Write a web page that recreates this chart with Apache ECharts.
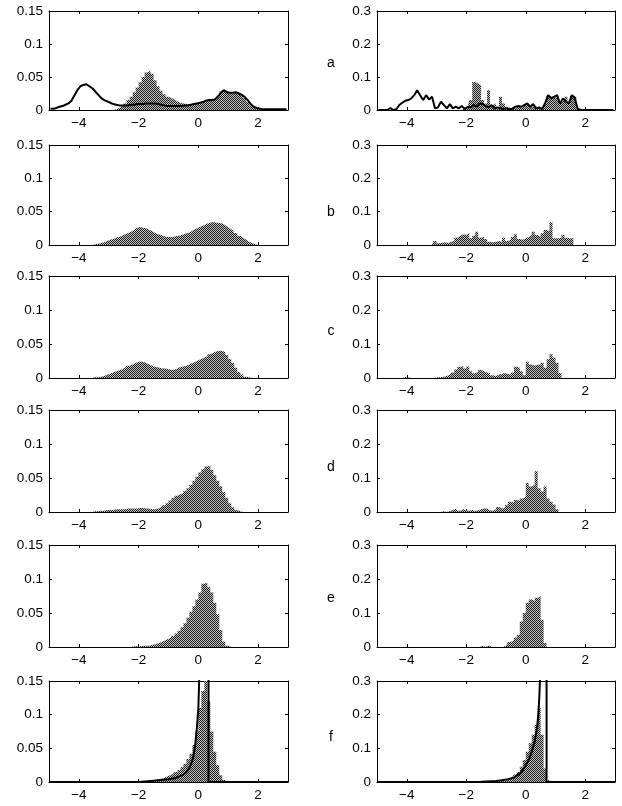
<!DOCTYPE html>
<html><head><meta charset="utf-8">
<script src="https://cdn.jsdelivr.net/npm/echarts@6/dist/echarts.min.js"></script>
<style>html,body{margin:0;padding:0;background:#fff}#c{width:622px;height:806px}</style>
</head><body><div id="c"></div>
<script>
// histogram bins: width 0.1 from -5 to 3 (80 bins)
const BIN_LO = -5, BIN_HI = 3, BIN_COUNT = 80;
const XTICKS = [-4, -2, 0, 2];
const XTICK_LABELS = ['\u22124', '\u22122', '0', '2'];
const YTICKS_L = [0, 0.05, 0.1, 0.15];
const YLABELS_L = ['0', '0.05', '0.1', '0.15'];
const YTICKS_R = [0, 0.1, 0.2, 0.3];
const YLABELS_R = ['0', '0.1', '0.2', '0.3'];
const PANEL_LETTERS = ['a', 'b', 'c', 'd', 'e', 'f'];

const aL_hist = [0,0,0,0,0,0,0,0, 0,0,0,0,0,0,0,0, 0,0,0,0,0,0,0.001,0.003,
 0.006,0.01,0.015,0.02,0.027,0.034,0.042,0.05, 0.057,0.06,0.055,0.045,0.036,0.029,0.024,0.02,
 0.018,0.016,0.013,0.011,0.01,0.009,0.009,0.009, 0.01,0.011,0.012,0.013,0.015,0.015,0.016,0.018,
 0.022,0.028,0.03,0.028,0.026,0.027,0.027,0.026, 0.023,0.018,0.012,0.007,0.004,0.002,0.001,0, 0,0,0,0,0,0,0,0];
const aL_line = [0.002,0.002,0.003,0.005,0.006,0.008,0.01,0.014, 0.022,0.03,0.036,0.038,0.039,0.036,0.033,0.028,
 0.023,0.018,0.015,0.013,0.011,0.009,0.008,0.007, 0.007,0.007,0.007,0.008,0.008,0.009,0.009,0.009,
 0.01,0.01,0.01,0.01,0.009,0.008,0.007,0.006, 0.006,0.006,0.006,0.006,0.006,0.007,0.007,0.008,
 0.009,0.01,0.011,0.012,0.014,0.015,0.015,0.016, 0.02,0.026,0.03,0.027,0.026,0.026,0.027,0.025,
 0.023,0.02,0.015,0.009,0.005,0.003,0.002,0.001, 0.001,0.001,0.001,0.001,0.001,0.001,0.001,0.001];
const aR_hist = [0,0,0,0,0,0,0,0, 0,0,0,0,0,0,0,0, 0,0,0,0,0,0,0,0,
 0,0,0,0,0,0.005,0.01,0.03, 0.085,0.08,0.075,0.03,0.02,0.06,0.015,0.02,
 0.01,0.04,0.02,0.01,0.005,0.01,0.005,0.012, 0.01,0.015,0.02,0.01,0.012,0.008,0.005,0.01,
 0.02,0.045,0.04,0.035,0.045,0.025,0.03,0.04, 0.025,0.045,0.04,0.005,0,0,0,0, 0,0,0,0,0,0,0,0];
const aR_line = [0,0,0,0,0.006,0,0.002,0.015, 0.022,0.028,0.03,0.035,0.045,0.06,0.045,0.03,
 0.045,0.032,0.04,0.005,0.008,0.025,0.015,0.005, 0.018,0.005,0.01,0.005,0.012,0.003,0.01,0.008,
 0.015,0.01,0.02,0.018,0.012,0.008,0.015,0.005, 0.008,0.005,0.003,0.005,0.002,0.004,0.01,0.012,
 0.01,0.015,0.02,0.01,0.018,0.005,0.008,0.003, 0.02,0.045,0.035,0.04,0.045,0.02,0.035,0.025,
 0.02,0.045,0.035,0.002,0,0,0,0, 0,0,0,0,0,0,0,0];
const bL_hist = [0,0,0,0,0,0,0,0, 0,0,0,0,0,0,0,0.001, 0.002,0.003,0.004,0.006,0.008,0.009,0.011,0.012,
 0.014,0.016,0.018,0.02,0.023,0.026,0.027,0.026, 0.025,0.023,0.021,0.018,0.016,0.015,0.013,0.012,
 0.012,0.012,0.013,0.014,0.015,0.017,0.018,0.02, 0.023,0.025,0.027,0.029,0.031,0.033,0.034,0.034,
 0.033,0.033,0.031,0.028,0.025,0.022,0.018,0.014, 0.011,0.008,0.005,0.003,0.001,0,0,0, 0,0,0,0,0,0,0,0];
const bR_hist = [0,0,0,0,0,0,0,0, 0,0,0,0,0,0,0,0, 0,0,0,0.012,0.005,0.007,0.008,0.006,
 0.01,0.012,0.022,0.028,0.032,0.03,0.036,0.02, 0.028,0.04,0.022,0.025,0.018,0.01,0.008,0.01,
 0.012,0.01,0.022,0.012,0.016,0.024,0.032,0.018, 0.016,0.02,0.024,0.03,0.04,0.03,0.025,0.035,
 0.045,0.042,0.068,0.02,0.02,0.022,0.03,0.022, 0.02,0.02,0,0,0,0,0,0, 0,0,0,0,0,0,0,0];
const cL_hist = [0,0,0,0,0,0,0,0, 0,0,0,0,0,0,0,0.001, 0.001,0.002,0.003,0.005,0.006,0.008,0.01,0.011,
 0.013,0.015,0.018,0.02,0.022,0.024,0.024,0.023, 0.021,0.019,0.017,0.016,0.015,0.014,0.014,0.013,
 0.012,0.012,0.014,0.016,0.017,0.018,0.02,0.022, 0.024,0.026,0.028,0.03,0.032,0.035,0.037,0.039,
 0.04,0.04,0.038,0.034,0.028,0.022,0.015,0.009, 0.005,0.002,0.001,0,0,0,0,0, 0,0,0,0,0,0,0,0];
const cR_hist = [0,0,0,0,0,0,0,0, 0,0.003,0.002,0,0,0,0,0, 0,0,0,0,0.002,0.002,0.004,0.006,
 0.01,0.016,0.025,0.032,0.035,0.028,0.034,0.02, 0.014,0.018,0.024,0.02,0.016,0.014,0.008,0.006,
 0.01,0.012,0.015,0.012,0.01,0.016,0.033,0.03, 0.02,0.008,0.048,0.04,0.036,0.04,0.038,0.045,
 0.03,0.055,0.07,0.06,0.045,0.015,0,0, 0,0,0,0,0,0,0,0, 0,0,0,0,0,0,0,0];
const dL_hist = [0,0,0,0,0,0,0,0, 0,0,0,0,0,0,0,0.001, 0.001,0.002,0.002,0.003,0.003,0.003,0.004,0.004,
 0.004,0.004,0.005,0.005,0.005,0.005,0.006,0.006, 0.005,0.005,0.004,0.004,0.005,0.007,0.01,0.013,
 0.017,0.021,0.024,0.026,0.028,0.031,0.035,0.04, 0.046,0.052,0.058,0.063,0.067,0.068,0.062,0.054,
 0.046,0.038,0.029,0.021,0.013,0.007,0.003,0.001, 0,0,0,0,0,0,0,0, 0,0,0,0,0,0,0,0];
const dR_hist = [0,0,0,0,0,0,0,0, 0,0,0,0,0,0,0,0, 0,0,0,0,0,0,0.002,0,
 0.003,0.006,0.01,0.004,0.008,0.005,0.004,0.006, 0.003,0.005,0.008,0.01,0.01,0.005,0.004,0.008,
 0.015,0.01,0.012,0.02,0.03,0.028,0.035,0.034, 0.04,0.045,0.085,0.075,0.08,0.12,0.07,0.06,
 0.075,0.04,0.03,0.022,0.008,0,0,0, 0,0,0,0,0,0,0,0, 0,0,0,0,0,0,0,0];
const eL_hist = [0,0,0,0,0,0,0,0, 0,0,0,0,0,0,0,0, 0,0,0,0,0,0,0,0,
 0,0,0,0,0.001,0.001,0.001,0.002, 0.002,0.002,0.003,0.004,0.005,0.007,0.009,0.011,
 0.013,0.016,0.02,0.024,0.029,0.035,0.043,0.052, 0.06,0.07,0.08,0.093,0.095,0.088,0.08,0.065,
 0.048,0.025,0.008,0.002,0,0,0,0, 0,0,0,0,0,0,0,0, 0,0,0,0,0,0,0,0];
const eR_hist = [0,0,0,0,0,0,0,0, 0,0,0,0,0,0,0,0, 0,0,0,0,0,0,0,0,
 0,0,0,0,0,0,0,0, 0,0,0,0.004,0,0.005,0,0,
 0,0,0,0.005,0.015,0.02,0.028,0.035, 0.075,0.1,0.13,0.14,0.135,0.145,0.15,0.08,
 0.012,0,0,0,0,0,0,0, 0,0,0,0,0,0,0,0, 0,0,0,0,0,0,0,0];
const fL_hist = [0,0,0,0,0,0,0,0, 0,0,0,0,0,0,0,0, 0,0,0,0,0,0,0,0,
 0,0,0,0,0,0.001,0.001,0.001, 0.001,0.002,0.002,0.003,0.004,0.005,0.006,0.008,
 0.01,0.012,0.015,0.018,0.022,0.027,0.034,0.042, 0.055,0.075,0.11,0.135,0.15,0.12,0.075,0.045,
 0.025,0.01,0.003,0,0,0,0,0, 0,0,0,0,0,0,0,0, 0,0,0,0,0,0,0,0];
const fR_hist = [0,0,0,0,0,0,0,0, 0,0,0,0,0,0,0,0, 0,0,0,0,0,0,0,0,
 0,0,0,0,0,0,0,0, 0,0,0.003,0,0,0,0,0,
 0.004,0.003,0.004,0.006,0.01,0.015,0.022,0.03, 0.045,0.065,0.09,0.115,0.14,0.17,0.22,0.14,
 0.04,0.005,0,0,0,0,0,0, 0,0,0,0,0,0,0,0, 0,0,0,0,0,0,0,0];
const fL_curveX = [-5,-2,-1.5,-1,-0.75,-0.5,-0.4,-0.3,-0.2,-0.15,-0.1,-0.05,0,0.02,0.03,0.05,0.34,0.34,3];
const fL_curveY = [0,0,0.002,0.004,0.006,0.011,0.015,0.021,0.032,0.042,0.058,0.08,0.11,0.14,0.16,1,1,0,0];
const fR_curveX = [-5,-2,-1.5,-1,-0.8,-0.6,-0.4,-0.2,-0.1,0,0.1,0.2,0.3,0.38,0.43,0.46,0.48,0.5,0.7,0.7,3];
const fR_curveY = [0,0,0.001,0.003,0.005,0.008,0.013,0.025,0.035,0.05,0.065,0.09,0.12,0.16,0.21,0.26,0.31,1,1,0,0];

const HISTS = [[aL_hist, aR_hist],[bL_hist, bR_hist],[cL_hist, cR_hist],[dL_hist, dR_hist],[eL_hist, eR_hist],[fL_hist, fR_hist]];

// layout
const ROW_TOP = [11, 145, 276, 410, 545, 681];
const ROW_H = [99, 100, 102, 102, 102, 101];
const COL_LEFT = [49, 377];
const COL_W = [239, 238];
const LETTER_Y = [63, 212, 331, 467, 598, 737];
const LETTER_X = 331;
const FONT = 'Liberation Sans, Arial, Helvetica, sans-serif';
const FS = 13.5;

function stipple() {
  const c = document.createElement('canvas');
  c.width = 2; c.height = 2;
  const g = c.getContext('2d');
  g.fillStyle = '#c4c4c4'; g.fillRect(0, 0, 2, 2);
  g.fillStyle = '#1c1c1c'; g.fillRect(0, 0, 1, 1); g.fillRect(1, 1, 1, 1);
  return c;
}
const pat = { image: stipple(), repeat: 'repeat' };
const binW = (BIN_HI - BIN_LO) / BIN_COUNT;
const centers = Array.from({ length: BIN_COUNT }, (_, i) => +(BIN_LO + binW * (i + 0.5)).toFixed(3));

function lab(vals, labels) {
  return v => { const i = vals.findIndex(t => Math.abs(t - v) < 1e-9); return i >= 0 ? labels[i] : ''; };
}

const grids = [], xAxes = [], yAxes = [], series = [], graphic = [];
for (let r = 0; r < 6; r++) {
  for (let c = 0; c < 2; c++) {
    const gi = grids.length;
    grids.push({ left: COL_LEFT[c], top: ROW_TOP[r], width: COL_W[c], height: ROW_H[r], show: false });
    const yt = c === 0 ? YTICKS_L : YTICKS_R, yl = c === 0 ? YLABELS_L : YLABELS_R;
    const ymax = yt[yt.length - 1];
    const axLine = { show: true, onZero: false, lineStyle: { color: '#000', width: 1 } };
    const tick = (vals) => ({ show: true, inside: true, length: 3, customValues: vals, lineStyle: { color: '#000', width: 1 } });
    xAxes.push({ type: 'value', gridIndex: gi, min: BIN_LO, max: BIN_HI, position: 'bottom', axisLine: axLine,
      axisTick: tick(XTICKS), splitLine: { show: false },
      axisLabel: { customValues: XTICKS, formatter: lab(XTICKS, XTICK_LABELS), color: '#000', fontSize: FS, fontFamily: FONT, margin: 6 } });
    xAxes.push({ type: 'value', gridIndex: gi, min: BIN_LO, max: BIN_HI, position: 'top', axisLine: axLine,
      axisTick: tick(XTICKS), splitLine: { show: false }, axisLabel: { show: false } });
    yAxes.push({ type: 'value', gridIndex: gi, min: 0, max: ymax, position: 'left', axisLine: axLine,
      axisTick: tick(yt), splitLine: { show: false },
      axisLabel: { customValues: yt, formatter: lab(yt, yl), color: '#000', fontSize: FS, fontFamily: FONT, margin: 6 } });
    yAxes.push({ type: 'value', gridIndex: gi, min: 0, max: ymax, position: 'right', axisLine: axLine,
      axisTick: tick(yt), splitLine: { show: false }, axisLabel: { show: false } });
    const xi = 2 * gi, yi = 2 * gi;
    series.push({ type: 'line', xAxisIndex: xi, yAxisIndex: yi, step: 'middle', symbol: 'none', silent: true,
      data: centers.map((x, i) => [x, HISTS[r][c][i]]),
      lineStyle: { width: 0, opacity: 0 }, areaStyle: { color: pat, opacity: 1, origin: 'start' }, z: 2 });
    if (r === 0) {
      const ln = c === 0 ? aL_line : aR_line;
      series.push({ type: 'line', xAxisIndex: xi, yAxisIndex: yi, symbol: 'none', silent: true,
        data: centers.map((x, i) => [x, ln[i]]), lineStyle: { color: '#000', width: 2 }, z: 3 });
    }
    if (r === 5) {
      const cx = c === 0 ? fL_curveX : fR_curveX, cy = c === 0 ? fL_curveY : fR_curveY;
      series.push({ type: 'line', xAxisIndex: xi, yAxisIndex: yi, symbol: 'none', silent: true, clip: true,
        data: cx.map((x, i) => [x, cy[i]]), lineStyle: { color: '#000', width: 2 }, z: 3 });
    }
  }
  graphic.push({ type: 'text', x: LETTER_X, y: LETTER_Y[r],
    style: { text: PANEL_LETTERS[r], fill: '#000', font: '14px ' + FONT, textAlign: 'center', textVerticalAlign: 'middle' } });
}

const chart = echarts.init(document.getElementById('c'), null, { renderer: 'canvas' });
chart.setOption({ animation: false, backgroundColor: '#fff', grid: grids, xAxis: xAxes, yAxis: yAxes, series, graphic });
</script></body></html>
